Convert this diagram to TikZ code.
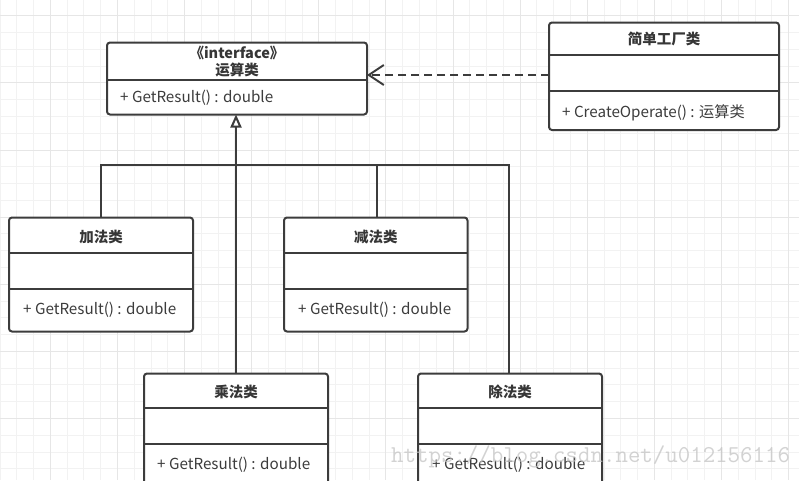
\documentclass[tikz,border=0pt]{standalone}
\usepackage{fontspec}
\setmainfont{Noto Sans CJK SC}
\usetikzlibrary{arrows.meta}
\definecolor{ink}{HTML}{3C3C3C}
\definecolor{gridminor}{HTML}{F2F2F2}
\definecolor{gridmajor}{HTML}{E6E6E6}
\definecolor{wmark}{HTML}{C4C4C4}
\tikzset{
  classbox/.style={draw=ink, line width=2pt, rounded corners=3pt, fill=white, inner sep=0pt, outer sep=0pt},
  divider/.style={draw=ink, line width=2pt},
  titletext/.style={font=\fontsize{14.5}{17}\selectfont\bfseries, text=ink!90!black, inner sep=0pt, align=center},
  methodtext/.style={font=\fontsize{15.2}{18}\selectfont, text=ink, inner sep=0pt, anchor=west},
  conn/.style={draw=ink, line width=2pt},
}
\newcommand\umlclass[8]{% name, x1, y1, x2, y2, div1, div2, left
  \node[classbox, minimum width={#4-#2}, minimum height={#5-#3}] (#1) at ({(#2+#4)/2},{(#3+#5)/2}) {};
  \draw[divider] (#2,#6) -- (#4,#6);
  \ifx&#7&\else\draw[divider] (#2,#7) -- (#4,#7);\fi
}
\begin{document}
\begin{tikzpicture}[x=1pt,y=-1pt]
\useasboundingbox (0,0) rectangle (799,480);
\clip (0,0) rectangle (799,480);
\fill[white] (0,0) rectangle (799,480);
% grid
\foreach \i in {0,...,48} \draw[gridminor, line width=1pt] ({\i*16.78},0) -- ({\i*16.78},480);
\foreach \i in {0,...,29} \draw[gridminor, line width=1pt] (0,{\i*16.78-1}) -- (799,{\i*16.78-1});
\foreach \i in {0,...,11} \draw[gridmajor, line width=1pt] ({50.3+\i*67.12},0) -- ({50.3+\i*67.12},480);
\foreach \i in {0,...,7} \draw[gridmajor, line width=1pt] (0,{15.8+\i*67.12}) -- (799,{15.8+\i*67.12});

% classes
\umlclass{iface}{107}{42.5}{367}{114.5}{80}{}{}
\node[titletext] (ifacestereo) at (237,53) {《interface》};
\node[titletext] (ifacename) at (237,70.5) {运算类};
\node[methodtext] (ifacem) at (120,98) {+ GetResult() : double};

\umlclass{fac}{549}{22.5}{779}{130}{54.5}{90.5}{}
\node[titletext] (facname) at (664,39) {简单工厂类};
\node[methodtext] (facm) at (562,112.5) {+ CreateOperate() : 运算类};

\umlclass{add}{9}{217.5}{193}{331.5}{252.5}{288.5}{}
\node[titletext] (addname) at (101,236.5) {加法类};
\node[methodtext] (addm) at (23,309.5) {+ GetResult() : double};

\umlclass{sub}{284}{217.5}{467.5}{331.5}{252.5}{288.5}{}
\node[titletext] (subname) at (375.75,236.5) {减法类};
\node[methodtext] (subm) at (298,309.5) {+ GetResult() : double};

\umlclass{mul}{144}{373.5}{328}{495}{407.5}{443.5}{}
\node[titletext] (mulname) at (236,391.5) {乘法类};
\node[methodtext] (mulm) at (157,464.5) {+ GetResult() : double};

\umlclass{dvd}{418}{373.5}{602}{495}{407.5}{443.5}{}
\node[titletext] (dvdname) at (510,391.5) {除法类};
\node[methodtext] (dvdm) at (432,464.5) {+ GetResult() : double};

% connectors
\coordinate (bus) at (236,164.5);
\draw[conn, -{Triangle[open, length=13pt, width=11pt, line width=2pt]}] (mul.north -| bus) -- (iface.south -| bus);
\draw[conn] (add.north -| 101,0) -- (101,164.5) -- (509,164.5) -- (dvd.north -| 509,0);
\draw[conn] (sub.north -| 376.5,0) -- (376.5,164.5);
\draw[conn, dash pattern=on 8pt off 5pt, -{Straight Barb[length=15pt, width=20pt, line width=2pt]}] (fac.west |- 0,75) -- (iface.east |- 0,75);

% watermark
\node[anchor=base west, inner sep=0pt, text=wmark, opacity=0.75, font=\ttfamily\fontsize{24.2}{25}\selectfont] (wm) at (391,462) {https://blog.csdn.net/u012156116};
\end{tikzpicture}
\end{document}
